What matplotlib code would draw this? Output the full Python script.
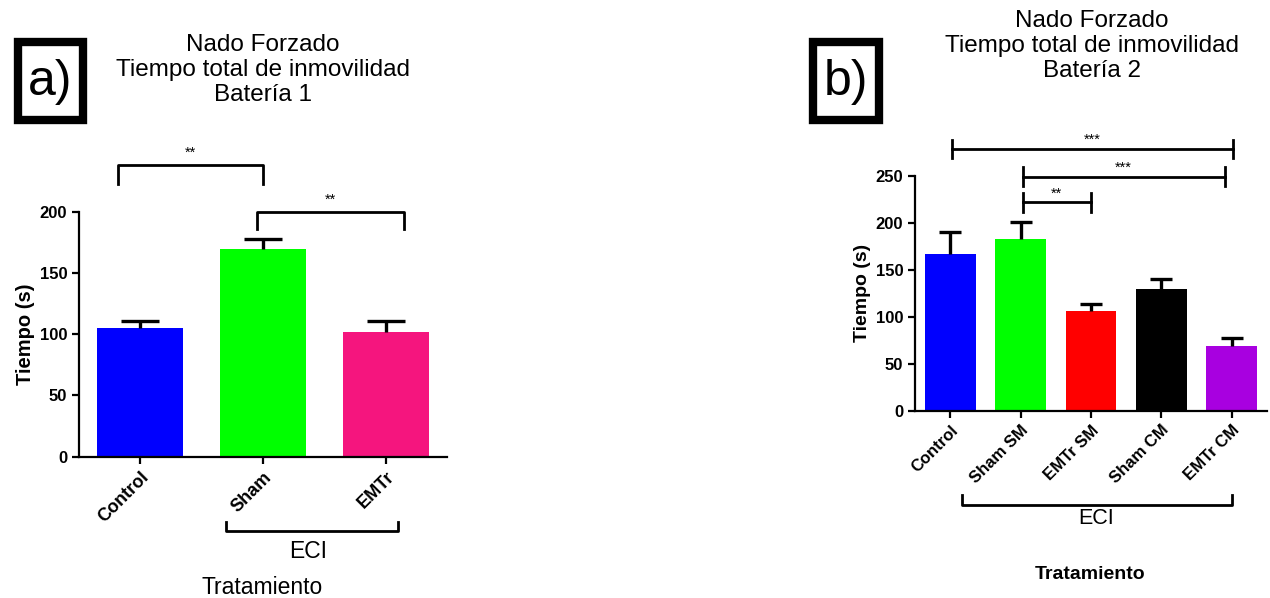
import matplotlib
matplotlib.use('Agg')
import matplotlib.pyplot as plt
from matplotlib.patches import Rectangle

plt.rcParams['font.family'] = ['Liberation Sans', 'DejaVu Sans']

# Panel a) datos
grupos_a = ['Control', 'Sham', 'EMTr']
medias_a = [104.8, 169.3, 102.0]
errores_a = [6.0, 8.2, 9.0]
colores_a = ['#0000FF', '#00FF00', '#F5157E']
# (x1, x2, y_linea, y_puntas, texto)
signif_a = [(-0.18, 1.0, 238, 223, '**'), (0.95, 2.15, 200, 186, '**')]

# Panel b) datos
grupos_b = ['Control', 'Sham SM', 'EMTr SM', 'Sham CM', 'EMTr CM']
medias_b = [166.7, 183.0, 106.4, 129.8, 68.8]
errores_b = [23.1, 17.7, 7.1, 10.0, 8.9]
colores_b = ['#0000FF', '#00FF00', '#FF0000', '#000000', '#A800E0']
# (x1, x2, y, texto)
signif_b = [(0.03, 4.01, 278.4, '***'), (1.03, 3.9, 249, '***'), (1.03, 2.0, 221.7, '**')]

fig = plt.figure(figsize=(12.7, 5.98), dpi=100)


def estilo_ejes(ax, ymax, paso):
    ax.spines['top'].set_visible(False)
    ax.spines['right'].set_visible(False)
    ax.spines['left'].set_linewidth(1.6)
    ax.spines['bottom'].set_linewidth(1.6)
    ax.set_ylim(0, ymax)
    ax.set_yticks(range(0, ymax + 1, paso))
    ax.tick_params(axis='both', direction='out', length=5, width=1.6)
    for t in ax.get_yticklabels():
        t.set_fontweight('bold')
        t.set_fontsize(12)


def barras_error(ax, x, medias, errores, cap):
    # solo la mitad superior de la barra de error
    _, caps, _ = ax.errorbar(x, medias, yerr=[[0] * len(x), errores], fmt='none',
                             ecolor='black', elinewidth=2.4, capsize=cap,
                             capthick=2.4, zorder=3)
    caps[0].set_visible(False)


# ---------------- panel a ----------------
ax1 = fig.add_axes([79 / 1270, 1 - 456.7 / 598, 368 / 1270, 245 / 598])
x_a = list(range(len(grupos_a)))
ax1.bar(x_a, medias_a, width=0.7, color=colores_a, zorder=2)
barras_error(ax1, x_a, medias_a, errores_a, 14)
ax1.set_xlim(-0.5, 2.5)
estilo_ejes(ax1, 200, 50)
ax1.set_xticks(x_a)
ax1.set_xticklabels(grupos_a, rotation=45, ha='right', rotation_mode='anchor',
                    fontweight='bold', fontsize=13)
ax1.set_ylabel('Tiempo (s)', fontweight='bold', fontsize=14.5, labelpad=3)

for x1, x2, y, yp, txt in signif_a:
    ax1.plot([x1, x1, x2, x2], [yp, y, y, yp], color='black', lw=2, clip_on=False)
    ax1.text((x1 + x2) / 2, y + 4, txt, ha='center', va='bottom', fontsize=10.5)

tr1 = ax1.get_xaxis_transform()
ax1.plot([0.70, 0.70, 2.10, 2.10], [-0.265, -0.303, -0.303, -0.265], color='black',
         lw=2, transform=tr1, clip_on=False)
ax1.text(1.37, -0.385, 'ECI', transform=tr1, ha='center', va='center', fontsize=16.5)
ax1.text(0.99, -0.534, 'Tratamiento', transform=tr1, ha='center', va='center', fontsize=16.5)

fig.text(263 / 1270, 1 - 70 / 598, 'Nado Forzado\nTiempo total de inmovilidad\nBatería 1',
         ha='center', va='center', fontsize=17.5, linespacing=1.2)

# ---------------- panel b ----------------
ax2 = fig.add_axes([915 / 1270, 1 - 410.7 / 598, 352 / 1270, 235 / 598])
x_b = list(range(len(grupos_b)))
ax2.bar(x_b, medias_b, width=0.72, color=colores_b, zorder=2)
barras_error(ax2, x_b, medias_b, errores_b, 8)
ax2.set_xlim(-0.5, 4.5)
estilo_ejes(ax2, 250, 50)
ax2.set_xticks(x_b)
ax2.set_xticklabels(grupos_b, rotation=45, ha='right', rotation_mode='anchor',
                    fontweight='bold', fontsize=12)
ax2.set_ylabel('Tiempo (s)', fontweight='bold', fontsize=14, labelpad=3)

for x1, x2, y, txt in signif_b:
    ax2.plot([x1, x2], [y, y], color='black', lw=2, clip_on=False)
    for xx in (x1, x2):
        ax2.plot([xx, xx], [y - 10, y + 10], color='black', lw=2, clip_on=False)
    ax2.text((x1 + x2) / 2, y + 2, txt, ha='center', va='bottom', fontsize=10.5)

tr2 = ax2.get_xaxis_transform()
ax2.plot([0.17, 0.17, 4.0, 4.0], [-0.359, -0.40, -0.40, -0.359], color='black',
         lw=2, transform=tr2, clip_on=False)
ax2.text(2.07, -0.457, 'ECI', transform=tr2, ha='center', va='center', fontsize=15.5)
ax2.text(1.98, -0.696, 'Tratamiento', transform=tr2, ha='center', va='center',
         fontsize=14, fontweight='bold')

fig.text(1092 / 1270, 1 - 46 / 598, 'Nado Forzado\nTiempo total de inmovilidad\nBatería 2',
         ha='center', va='center', fontsize=17.5, linespacing=1.2)

# ---------------- recuadros a) y b) ----------------
for x0, letra in [(17.5, 'a)'), (813.3, 'b)')]:
    fig.patches.append(Rectangle((x0 / 1270, 1 - 120 / 598), 65.5 / 1270, 78 / 598,
                                 transform=fig.transFigure, fill=False, lw=6,
                                 edgecolor='black'))
    fig.text((x0 + 33) / 1270, 1 - 82 / 598, letra, ha='center', va='center',
             fontsize=36)

fig.savefig('out.png', dpi=100)
